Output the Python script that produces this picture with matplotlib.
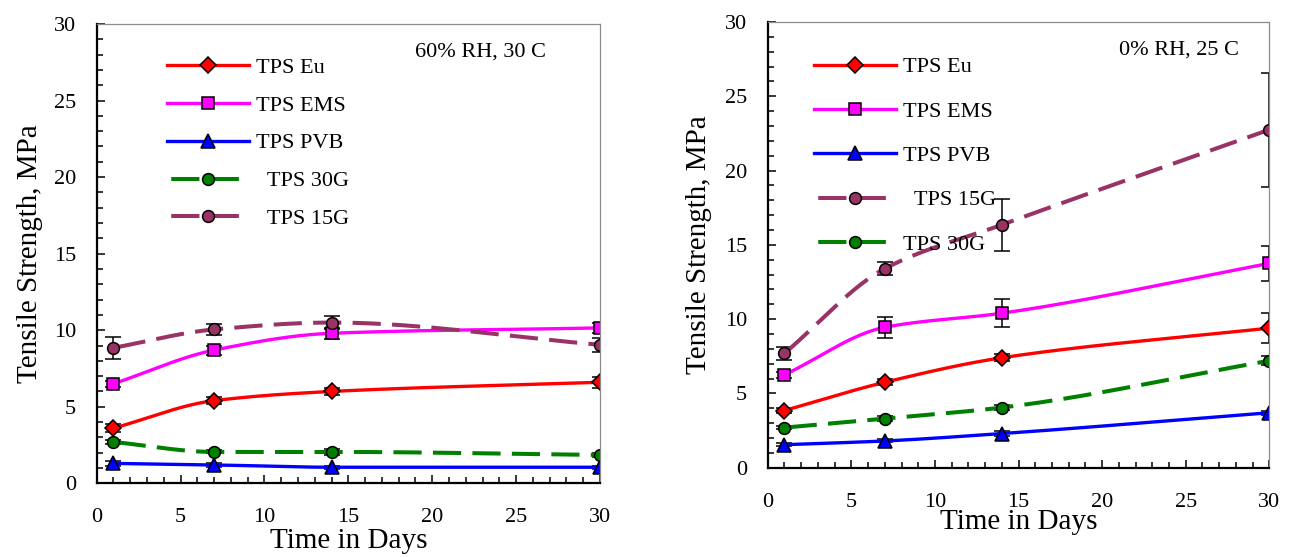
import numpy as np
import matplotlib
matplotlib.use("Agg")
import matplotlib.pyplot as plt
from matplotlib.ticker import MultipleLocator

plt.rcParams['font.family'] = ['Liberation Serif', 'DejaVu Serif']

# sampling days
days = [1, 7, 14, 30]

# 60% RH, 30 C
eu_60 = [3.6, 5.4, 6.0, 6.6]
eu_60_err = [0.25, 0.25, 0.25, 0.35]
ems_60 = [6.5, 8.7, 9.8, 10.15]
ems_60_err = [0.2, 0.3, 0.35, 0.3]
pvb_60 = [1.3, 1.2, 1.05, 1.05]
pvb_60_err = [0.15, 0.15, 0.1, 0.1]
g30_60 = [2.7, 2.05, 2.05, 1.85]
g30_60_err = [0.1, 0.1, 0.2, 0.1]
g15_60 = [8.85, 10.05, 10.5, 9.05]
g15_60_err = [0.73, 0.35, 0.42, 0.45]

# 0% RH, 25 C
eu_0 = [3.85, 5.75, 7.4, 9.4]
eu_0_err = [0.2, 0.2, 0.25, 1.0]
ems_0 = [6.25, 9.45, 10.4, 13.75]
ems_0_err = [0.2, 0.72, 0.93, 1.2]
pvb_0 = [1.55, 1.8, 2.3, 3.7]
pvb_0_err = [0.1, 0.1, 0.15, 0.15]
g15_0 = [7.7, 13.4, 16.35, 22.75]
g15_0_err = [0.45, 0.45, 1.75, 3.85]
g30_0 = [2.7, 3.3, 4.05, 7.2]
g30_0_err = [0.1, 0.15, 0.15, 0.3]

RED = '#ff0000'
MAGENTA = '#ff00ff'
BLUE = '#0000ff'
GREEN = '#008000'
PLUM = '#993366'


def pchip(x, y, xs):
    # monotone cubic hermite curve through the measured points
    x = np.asarray(x, float)
    y = np.asarray(y, float)
    h = np.diff(x)
    d = np.diff(y) / h
    m = np.zeros_like(y)
    m[0], m[-1] = d[0], d[-1]
    for k in range(1, len(x) - 1):
        if d[k - 1] * d[k] > 0:
            w1 = 2 * h[k] + h[k - 1]
            w2 = h[k] + 2 * h[k - 1]
            m[k] = (w1 + w2) / (w1 / d[k - 1] + w2 / d[k])
    idx = np.clip(np.searchsorted(x, xs) - 1, 0, len(x) - 2)
    t = (xs - x[idx]) / h[idx]
    h00 = 2 * t**3 - 3 * t**2 + 1
    h10 = t**3 - 2 * t**2 + t
    h01 = -2 * t**3 + 3 * t**2
    h11 = t**3 - t**2
    return (h00 * y[idx] + h10 * h[idx] * m[idx]
            + h01 * y[idx + 1] + h11 * h[idx] * m[idx + 1])


xs = np.union1d(np.linspace(days[0], days[-1], 300), days)
mark_idx = [int(np.where(xs == d)[0][0]) for d in days]


def series(ax, y, err, color, marker, label, dashed=False):
    ax.errorbar(days, y, yerr=err, fmt='none', ecolor='black',
                elinewidth=1.1, capsize=5.5, capthick=1.1, zorder=1.5)
    # offset so the legend sample reads dash - marker - dash
    ls = (8.75, (7, 2.8)) if dashed else '-'
    lw = 2.9 if dashed else 2.4
    ms = 9.5 if marker == '^' else 8.5
    ax.plot(xs, pchip(days, y, xs), color=color, lw=lw, linestyle=ls,
            marker=marker, markevery=mark_idx, markersize=ms,
            markerfacecolor=color, markeredgecolor='black',
            markeredgewidth=1.1, label=label, zorder=2)


def style(ax):
    ax.set_xlim(0, 30)
    ax.set_ylim(0, 30)
    ax.xaxis.set_major_locator(MultipleLocator(5))
    ax.xaxis.set_minor_locator(MultipleLocator(1))
    ax.yaxis.set_major_locator(MultipleLocator(5))
    ax.yaxis.set_minor_locator(MultipleLocator(1))
    ax.tick_params(which='both', direction='in', top=False, right=False,
                   width=1.1, color='black', labelsize=16)
    ax.tick_params(which='major', length=6)
    ax.tick_params(which='minor', length=4.5)
    ax.tick_params(axis='x', pad=18)
    ax.tick_params(axis='y', pad=15)
    for side in ('left', 'bottom'):
        ax.spines[side].set_linewidth(1.6)
        ax.spines[side].set_color('black')
    for side in ('top', 'right'):
        ax.spines[side].set_linewidth(0.9)
        ax.spines[side].set_color('#8c8c8c')
    ax.set_xlabel('Time in Days', fontsize=21)
    ax.set_ylabel('Tensile Strength, MPa', fontsize=21)


fig = plt.figure(figsize=(12.91, 5.57), dpi=100)
ax1 = fig.add_axes([0.0749, 0.1323, 0.3899, 0.8246])
ax2 = fig.add_axes([0.5947, 0.1603, 0.3885, 0.8002])

series(ax1, eu_60, eu_60_err, RED, 'D', 'TPS Eu')
series(ax1, ems_60, ems_60_err, MAGENTA, 's', 'TPS EMS')
series(ax1, pvb_60, pvb_60_err, BLUE, '^', 'TPS PVB')
series(ax1, g30_60, g30_60_err, GREEN, 'o', '  TPS 30G', dashed=True)
series(ax1, g15_60, g15_60_err, PLUM, 'o', '  TPS 15G', dashed=True)

series(ax2, eu_0, eu_0_err, RED, 'D', 'TPS Eu')
series(ax2, ems_0, ems_0_err, MAGENTA, 's', 'TPS EMS')
series(ax2, pvb_0, pvb_0_err, BLUE, '^', 'TPS PVB')
series(ax2, g15_0, g15_0_err, PLUM, 'o', '  TPS 15G', dashed=True)
series(ax2, g30_0, g30_0_err, GREEN, 'o', 'TPS 30G', dashed=True)

for ax in (ax1, ax2):
    style(ax)

ax1.xaxis.set_label_coords(0.5, -0.098)
ax1.yaxis.set_label_coords(-0.107, 0.5)
ax2.xaxis.set_label_coords(0.5, -0.093)
ax2.yaxis.set_label_coords(-0.111, 0.5)

ax1.text(0.632, 0.94, '60% RH, 30 C', transform=ax1.transAxes,
         fontsize=16, va='center', ha='left')
ax2.text(0.70, 0.937, '0% RH, 25 C', transform=ax2.transAxes,
         fontsize=16, va='center', ha='left')

ax1.legend(loc='upper left', bbox_to_anchor=(0.139, 0.928), frameon=False,
           fontsize=16, handlelength=3.7, handletextpad=0.3,
           labelspacing=0.78, borderpad=0, borderaxespad=0, numpoints=1)
ax2.legend(loc='upper left', bbox_to_anchor=(0.0915, 0.922), frameon=False,
           fontsize=16, handlelength=3.7, handletextpad=0.3,
           labelspacing=1.07, borderpad=0, borderaxespad=0, numpoints=1)

fig.savefig('out.png', dpi=100)
